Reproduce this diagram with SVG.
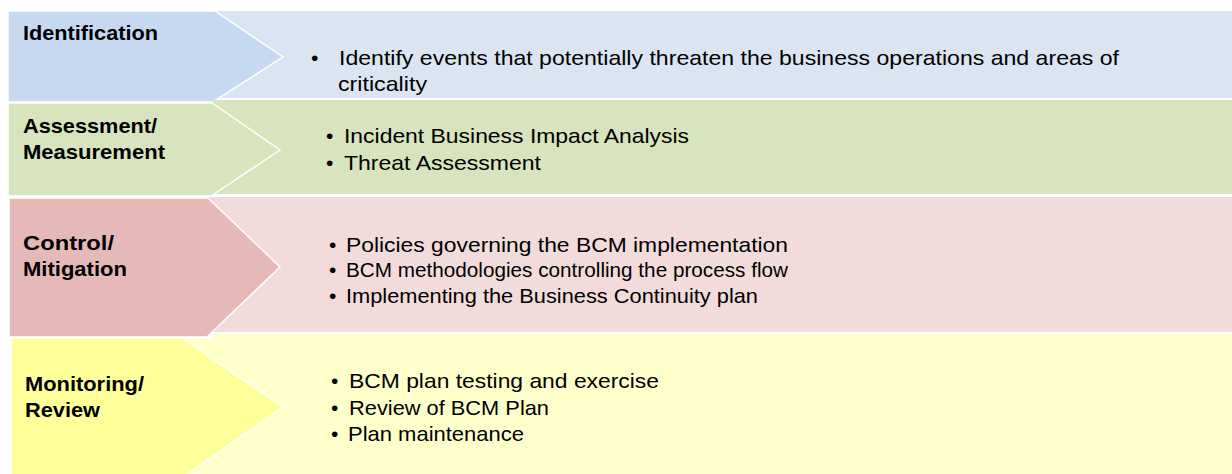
<svg xmlns="http://www.w3.org/2000/svg" width="1232" height="474" viewBox="0 0 1232 474">
<style>
.lbl{font-family:"Liberation Sans",Arial,sans-serif;font-weight:bold;font-size:20.5px;fill:#000}
.txt{font-family:"Liberation Sans",Arial,sans-serif;font-size:21px;fill:#000}
.sm{font-size:19.5px}
.arr{stroke:#fff;stroke-width:1.5}
</style>
<rect width="1232" height="474" fill="#fff"/>
<g id="identification">
<rect x="213" y="11" width="1019" height="87" fill="#dbe5f1"/>
<polygon class="arr" points="8,11 215,11 283,57 213,102 8,102" fill="#c6d9f1"/>
<text class="lbl" x="23" y="40" textLength="135" lengthAdjust="spacingAndGlyphs">Identification</text>
<text class="txt" x="311" y="65">•</text>
<text class="txt" x="339" y="65" textLength="780" lengthAdjust="spacingAndGlyphs">Identify events that potentially threaten the business operations and areas of</text>
<text class="txt" x="338" y="91" textLength="89" lengthAdjust="spacingAndGlyphs">criticality</text>
</g>
<g id="assessment">
<rect x="213" y="100" width="1019" height="94" fill="#d7e4bd"/>
<polygon class="arr" points="8,103 212,103 280,150 211,196 8,196" fill="#d7e4bd"/>
<text class="lbl" x="23" y="133" textLength="134" lengthAdjust="spacingAndGlyphs">Assessment/</text>
<text class="lbl" x="23" y="158.5" textLength="142" lengthAdjust="spacingAndGlyphs">Measurement</text>
<text class="txt" x="326" y="143">•</text>
<text class="txt" x="344" y="143" textLength="345" lengthAdjust="spacingAndGlyphs">Incident Business Impact Analysis</text>
<text class="txt" x="326" y="170">•</text>
<text class="txt" x="344" y="170" textLength="197" lengthAdjust="spacingAndGlyphs">Threat Assessment</text>
</g>
<g id="control">
<rect x="208" y="197" width="1024" height="135" fill="#f2dcdb"/>
<polygon class="arr" points="9,198 208,198 280,267 207,337 9,337" fill="#e6b9b8"/>
<text class="lbl" x="23" y="250" textLength="91" lengthAdjust="spacingAndGlyphs">Control/</text>
<text class="lbl" x="23" y="276" textLength="104" lengthAdjust="spacingAndGlyphs">Mitigation</text>
<text class="txt" x="329" y="252">•</text>
<text class="txt" x="346" y="252" textLength="442" lengthAdjust="spacingAndGlyphs">Policies governing the BCM implementation</text>
<text class="txt" x="329" y="277">•</text>
<text class="txt sm" x="346" y="277" textLength="442" lengthAdjust="spacingAndGlyphs">BCM methodologies controlling the process flow</text>
<text class="txt" x="329" y="303">•</text>
<text class="txt" x="346" y="303" textLength="412" lengthAdjust="spacingAndGlyphs">Implementing the Business Continuity plan</text>
</g>
<g id="monitoring">
<path d="M213,334 H1232 V474 H180 V338.5 H213 Z" fill="#ffffcc"/>
<polygon class="arr" points="11,338 182,338 283,407 183,477 11,477" fill="#ffff99"/>
<text class="lbl" x="25" y="391" textLength="119" lengthAdjust="spacingAndGlyphs">Monitoring/</text>
<text class="lbl" x="25" y="417" textLength="75" lengthAdjust="spacingAndGlyphs">Review</text>
<text class="txt" x="331" y="388">•</text>
<text class="txt" x="349" y="388" textLength="310" lengthAdjust="spacingAndGlyphs">BCM plan testing and exercise</text>
<text class="txt" x="331" y="415">•</text>
<text class="txt" x="349" y="415" textLength="200" lengthAdjust="spacingAndGlyphs">Review of BCM Plan</text>
<text class="txt" x="331" y="441">•</text>
<text class="txt" x="348" y="441" textLength="176" lengthAdjust="spacingAndGlyphs">Plan maintenance</text>
</g>
<g id="connectors"></g>
</svg>
